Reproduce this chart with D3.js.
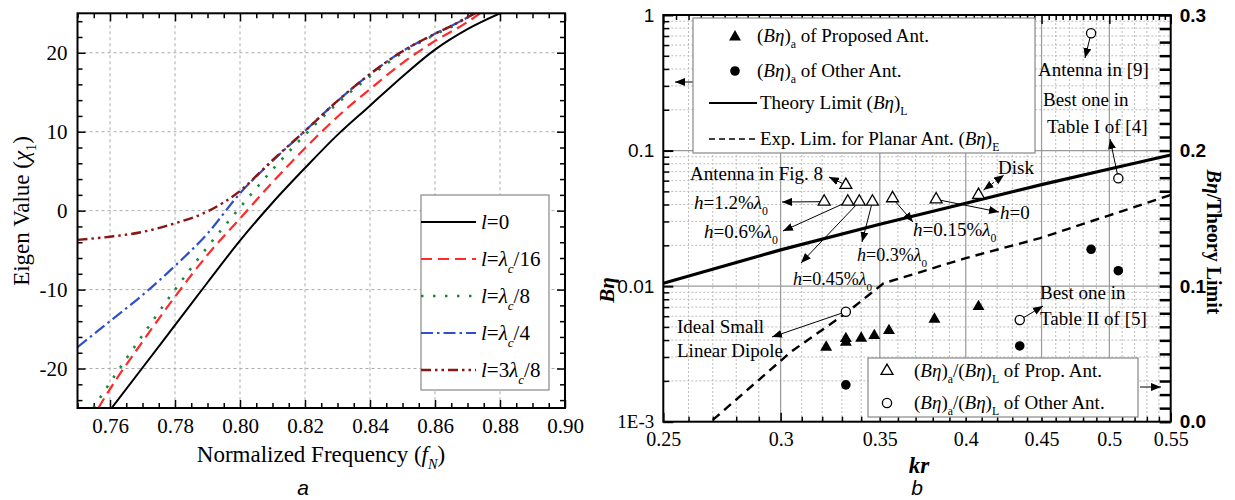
<!DOCTYPE html>
<html><head><meta charset="utf-8">
<script src="https://cdn.jsdelivr.net/npm/d3@7"></script>
<style>
body{margin:0;background:#fff}
svg{display:block}
</style>
</head><body>
<svg id="c" width="1235" height="500"></svg>
<script>
// ---------------- DATA ----------------
// Panel a : eigen value vs normalized frequency
const fNTicks = [0.76,0.78,0.80,0.82,0.84,0.86,0.88,0.90];
const chiTicks = [-20,-10,0,10,20];
const curveL0  = [[0.7605,-25],[0.77,-19.9],[0.78,-14.5],[0.79,-9.1],[0.80,-3.8],[0.81,1.0],[0.82,5.4],[0.83,9.6],[0.84,13.3],[0.85,17.0],[0.86,20.4],[0.87,23.0],[0.88,25]];
const curveL16 = [[0.7564,-25],[0.76,-22.6],[0.77,-16.6],[0.78,-10.9],[0.79,-5.6],[0.80,-1.0],[0.81,3.6],[0.82,7.9],[0.83,11.9],[0.84,15.4],[0.85,18.7],[0.86,21.5],[0.87,23.9],[0.8738,25]];
const curveL8  = [[0.7549,-25],[0.76,-21.8],[0.77,-15.8],[0.78,-10.0],[0.79,-4.6],[0.80,0.4],[0.81,5.2],[0.82,9.6],[0.83,13.6],[0.84,17.0],[0.85,20.0],[0.86,22.3],[0.866,23.5],[0.871,25]];
const curveL4  = [[0.75,-17.3],[0.76,-14.0],[0.77,-10.7],[0.78,-7.0],[0.79,-2.9],[0.80,2.2],[0.81,6.3],[0.82,10.1],[0.83,13.9],[0.84,17.3],[0.85,20.2],[0.86,22.4],[0.866,23.6],[0.8723,25]];
const curveL38 = [[0.75,-3.7],[0.76,-3.3],[0.77,-2.7],[0.78,-1.6],[0.79,-0.1],[0.80,2.5],[0.81,6.4],[0.82,10.1],[0.83,13.9],[0.84,17.3],[0.85,20.2],[0.86,22.4],[0.866,23.6],[0.8723,25]];

// Panel b : B·eta vs kr
const krTicks = [0.25,0.3,0.35,0.4,0.45,0.5,0.55];
const krLabels = ["0.25","0.3","0.35","0.4","0.45","0.5","0.55"];
const betaTicks = [0.001,0.01,0.1,1];
const betaLabels = ["1E-3","0.01","0.1","1"];
const ratioTicks = [0,0.1,0.2,0.3];
const ratioLabels = ["0.0","0.1","0.2","0.3"];
const theoryKr   = [0.25,0.3,0.35,0.4,0.45,0.5,0.55];
const theoryBeta = [0.0105,0.0185,0.0286,0.0409,0.0561,0.0731,0.0928];
const expKr   = [0.27,0.305,0.332,0.352,0.361,0.4,0.449,0.5,0.55];
const expBeta = [0.00103,0.00329,0.0063,0.0105,0.0114,0.0161,0.0226,0.0333,0.047];
const propKr    = [0.322,0.332,0.332,0.340,0.347,0.355,0.381,0.408];
const propBeta  = [0.00354,0.00385,0.0041,0.00413,0.00432,0.0047,0.0057,0.00706];
const propRKr   = [0.321,0.332,0.333,0.339,0.346,0.357,0.382,0.408];
const propRatio = [0.1623,0.1746,0.1623,0.1623,0.1623,0.1648,0.1640,0.1672];
const otherKr    = [0.332,0.435,0.486,0.507];
const otherBeta  = [0.00187,0.00362,0.0187,0.0130];
const otherRatio = [0.0811,0.075,0.2865,0.1795];

// ---------------- HELPERS ----------------
const SERIF = "'Liberation Serif','Times New Roman',Times,'DejaVu Serif',serif";
const SANS = "'Liberation Sans',Arial,Helvetica,sans-serif";
const svg = d3.select("#c");
function rich(sel, x, y, segs, size, attrs){
  const t = sel.append("text").attr("x",x).attr("y",y).attr("font-size",size).style("font-family",SERIF).attr("fill","#000");
  if(attrs) Object.entries(attrs).forEach(([k,v])=>t.attr(k,v));
  let shift = 0;
  segs.forEach(s=>{
    if(typeof s==="string") s={t:s};
    const ts = t.append("tspan").text(s.t);
    let dy = 0;
    if(s.sub && shift===0){dy=size*0.32; shift=dy;}
    else if(!s.sub && shift!==0){dy=-shift; shift=0;}
    if(dy) ts.attr("dy",dy);
    if(s.sub) ts.attr("font-size",size*0.62);
    if(s.i) ts.attr("font-style","italic");
    if(s.b) ts.attr("font-weight","bold");
  });
  return t;
}
const I = t=>({t,i:true});
const S = t=>({t,sub:true});
const SI = t=>({t,sub:true,i:true});

const defs = svg.append("defs");
defs.append("marker").attr("id","ah").attr("viewBox","0 0 10 8").attr("refX",10).attr("refY",4)
  .attr("markerWidth",10).attr("markerHeight",8).attr("markerUnits","userSpaceOnUse").attr("orient","auto")
  .append("path").attr("d","M0,0 L10,4 L0,8 Z").attr("fill","#000");
defs.append("marker").attr("id","ahs").attr("viewBox","0 0 10 8").attr("refX",0).attr("refY",4)
  .attr("markerWidth",10).attr("markerHeight",8).attr("markerUnits","userSpaceOnUse").attr("orient","auto")
  .append("path").attr("d","M10,0 L0,4 L10,8 Z").attr("fill","#000");

function styleAxis(g, w){
  g.select(".domain").remove();
  g.selectAll(".tick line").attr("stroke","#000").attr("stroke-width",w||1.5);
}
function styleLabels(g, size, fam){
  g.selectAll("text").attr("font-size",size).style("font-family",fam).attr("fill","#000");
}

// ================= PANEL A =================
const A = {l:77.5, r:565, t:13.3, b:408};
const xA = d3.scaleLinear([0.75,0.90],[A.l,A.r]);
const yA = d3.scaleLinear([-25,25],[A.b,A.t]);
const gA = svg.append("g");

// grid
gA.append("g").selectAll("line").data(fNTicks.filter(d=>d<0.9)).join("line")
  .attr("x1",d=>xA(d)).attr("x2",d=>xA(d)).attr("y1",A.t).attr("y2",A.b)
  .attr("stroke","#aaa").attr("stroke-width",1).attr("stroke-dasharray","3,3");
gA.append("g").selectAll("line").data(chiTicks).join("line")
  .attr("y1",d=>yA(d)).attr("y2",d=>yA(d)).attr("x1",A.l).attr("x2",A.r)
  .attr("stroke","#aaa").attr("stroke-width",1).attr("stroke-dasharray","3,3");

// axes
const minorFA = d3.range(150,181).map(i=>i/200).filter(v=>Math.round(v*1000)%20!==0);
const minorCA = d3.range(-24,26,2).filter(v=>v%10!==0);
let ax;
ax = gA.append("g").attr("transform",`translate(0,${A.b})`)
  .call(d3.axisBottom(xA).tickValues(fNTicks).tickSize(-8).tickPadding(10).tickFormat(d3.format(".2f")));
styleAxis(ax); styleLabels(ax,21,SERIF);
ax = gA.append("g").attr("transform",`translate(0,${A.b})`).call(d3.axisBottom(xA).tickValues(minorFA).tickSize(-5).tickFormat(""));
styleAxis(ax);
ax = gA.append("g").attr("transform",`translate(0,${A.t})`).call(d3.axisTop(xA).tickValues(fNTicks).tickSize(-8).tickFormat(""));
styleAxis(ax);
ax = gA.append("g").attr("transform",`translate(0,${A.t})`).call(d3.axisTop(xA).tickValues(minorFA).tickSize(-5).tickFormat(""));
styleAxis(ax);
ax = gA.append("g").attr("transform",`translate(${A.l},0)`)
  .call(d3.axisLeft(yA).tickValues(chiTicks).tickSize(-8).tickPadding(10).tickFormat(d=>String(d)));
styleAxis(ax); styleLabels(ax,21,SERIF);
ax = gA.append("g").attr("transform",`translate(${A.l},0)`).call(d3.axisLeft(yA).tickValues(minorCA).tickSize(-5).tickFormat(""));
styleAxis(ax);
ax = gA.append("g").attr("transform",`translate(${A.r},0)`).call(d3.axisRight(yA).tickValues(chiTicks).tickSize(-8).tickFormat(""));
styleAxis(ax);
ax = gA.append("g").attr("transform",`translate(${A.r},0)`).call(d3.axisRight(yA).tickValues(minorCA).tickSize(-5).tickFormat(""));
styleAxis(ax);

// curves
defs.append("clipPath").attr("id","clipA").append("rect").attr("x",A.l).attr("y",A.t).attr("width",A.r-A.l).attr("height",A.b-A.t);
const lineA = d3.line().x(d=>xA(d[0])).y(d=>yA(d[1])).curve(d3.curveMonotoneX);
const seriesA = [
  {d:curveL0,  c:"#000000", dash:null, w:2},
  {d:curveL16, c:"#ff2a2a", dash:"11,6", w:2.2},
  {d:curveL8,  c:"#148a3c", dash:"2.5,9.5", w:2.6},
  {d:curveL4,  c:"#3050c8", dash:"12,4,2.5,4", w:2.2},
  {d:curveL38, c:"#8b1515", dash:"10,4,2.5,4,2.5,4", w:2.4}
];
const cg = gA.append("g").attr("clip-path","url(#clipA)");
seriesA.forEach(s=>{
  cg.append("path").attr("d",lineA(s.d)).attr("fill","none").attr("stroke",s.c)
    .attr("stroke-width",s.w).attr("stroke-dasharray",s.dash);
});

// frame
gA.append("rect").attr("x",A.l).attr("y",A.t).attr("width",A.r-A.l).attr("height",A.b-A.t)
  .attr("fill","none").attr("stroke","#000").attr("stroke-width",2);

// legend a
const LA = gA.append("g");
LA.append("rect").attr("x",421).attr("y",195).attr("width",128).attr("height",195)
  .attr("fill","#fff").attr("stroke","#888").attr("stroke-width",1.2);
const legRows = [222,259,296,333,370];
seriesA.forEach((s,i)=>{
  LA.append("line").attr("x1",421).attr("x2",i===2?472:476).attr("y1",legRows[i]).attr("y2",legRows[i])
    .attr("stroke",s.c).attr("stroke-width",s.w).attr("stroke-dasharray",s.dash);
});
const legTxt = [
  [I("l"),"=0"],
  [I("l"),"=",I("λ"),SI("c"),"/16"],
  [I("l"),"=",I("λ"),SI("c"),"/8"],
  [I("l"),"=",I("λ"),SI("c"),"/4"],
  [I("l"),"=3",I("λ"),SI("c"),"/8"]
];
legTxt.forEach((t,i)=>rich(LA,481,legRows[i]+7,t,21));

// titles
rich(gA,321,462,["Normalized Frequency (",I("f"),SI("N"),")"],23,{"text-anchor":"middle"});
rich(gA,0,0,["Eigen Value (",I("χ"),S("1"),")"],23,{"text-anchor":"middle","transform":"translate(29,211) rotate(-90)"});
gA.append("text").attr("x",303).attr("y",495).attr("text-anchor","middle").attr("font-size",21)
  .attr("font-style","italic").style("font-family",SANS).text("a");

// ================= PANEL B =================
const B = {l:663.3, r:1170.7, t:15, b:421.7};
const xB = d3.scaleLog([0.25,0.55],[B.l,B.r]);
const yB = d3.scaleLog([0.001,1],[B.b,B.t]);
const yR = d3.scaleLinear([0,0.3],[B.b,B.t]);
const gB = svg.append("g");

// grid
const minorKr = d3.range(26,55).map(i=>i/100).filter(v=>Math.round(v*100)%5!==0);
const majorKrIn = [0.3,0.35,0.4,0.45,0.5];
const minorBeta = [];
[0.001,0.01,0.1].forEach(dec=>{for(let k=2;k<=9;k++) minorBeta.push(dec*k);});
gB.append("g").selectAll("line").data(minorKr).join("line")
  .attr("x1",d=>xB(d)).attr("x2",d=>xB(d)).attr("y1",B.t).attr("y2",B.b)
  .attr("stroke","#bbb").attr("stroke-width",1).attr("stroke-dasharray","2,2");
gB.append("g").selectAll("line").data(minorBeta).join("line")
  .attr("y1",d=>yB(d)).attr("y2",d=>yB(d)).attr("x1",B.l).attr("x2",B.r)
  .attr("stroke","#bbb").attr("stroke-width",1).attr("stroke-dasharray","2,2");
gB.append("g").selectAll("line").data(majorKrIn).join("line")
  .attr("x1",d=>xB(d)).attr("x2",d=>xB(d)).attr("y1",B.t).attr("y2",B.b)
  .attr("stroke","#999").attr("stroke-width",1.2);
gB.append("g").selectAll("line").data([0.01,0.1]).join("line")
  .attr("y1",d=>yB(d)).attr("y2",d=>yB(d)).attr("x1",B.l).attr("x2",B.r)
  .attr("stroke","#999").attr("stroke-width",1.2);

// axes
ax = gB.append("g").attr("transform",`translate(0,${B.b})`)
  .call(d3.axisBottom(xB).tickValues(krTicks).tickSize(-9).tickPadding(10).tickFormat((d,i)=>krLabels[i]));
styleAxis(ax); styleLabels(ax,20,SERIF);
ax = gB.append("g").attr("transform",`translate(0,${B.b})`).call(d3.axisBottom(xB).tickValues(minorKr).tickSize(-5).tickFormat(""));
styleAxis(ax);
const minorKrTop = d3.range(51,110).map(i=>i/200).filter(v=>Math.round(v*1000)%50!==0);
ax = gB.append("g").attr("transform",`translate(0,${B.t})`).call(d3.axisTop(xB).tickValues(krTicks).tickSize(-9).tickFormat(""));
styleAxis(ax);
ax = gB.append("g").attr("transform",`translate(0,${B.t})`).call(d3.axisTop(xB).tickValues(minorKrTop).tickSize(-5).tickFormat(""));
styleAxis(ax);
ax = gB.append("g").attr("transform",`translate(${B.l},0)`)
  .call(d3.axisLeft(yB).tickValues(betaTicks).tickSize(-10).tickPadding(9).tickFormat((d,i)=>betaLabels[i]));
styleAxis(ax,2);
ax.selectAll("text").attr("font-size",19).attr("fill","#000").style("font-family",d=>d===0.001?SERIF:SANS);
ax = gB.append("g").attr("transform",`translate(${B.l},0)`).call(d3.axisLeft(yB).tickValues(minorBeta).tickSize(-6).tickFormat(""));
styleAxis(ax,1.5);
const ratioMinor = d3.range(0,31).map(i=>i/100);
ax = gB.append("g").attr("transform",`translate(${B.r},0)`)
  .call(d3.axisRight(yR).tickValues(ratioMinor).tickSize(-11).tickPadding(9)
    .tickFormat(d=>{const k=ratioTicks.findIndex(v=>Math.abs(v-d)<1e-9);return k>=0?ratioLabels[k]:"";}));
styleAxis(ax,2.5);
styleLabels(ax,19,SANS); ax.selectAll("text").attr("font-weight","bold");

// lines
defs.append("clipPath").attr("id","clipB").append("rect").attr("x",B.l).attr("y",B.t).attr("width",B.r-B.l).attr("height",B.b-B.t);
const cgB = gB.append("g").attr("clip-path","url(#clipB)");
const lineB = d3.line().x(d=>xB(d[0])).y(d=>yB(d[1]));
cgB.append("path").attr("d",lineB(d3.zip(theoryKr,theoryBeta))).attr("fill","none").attr("stroke","#000").attr("stroke-width",3.2);
cgB.append("path").attr("d",lineB(d3.zip(expKr,expBeta))).attr("fill","none").attr("stroke","#000").attr("stroke-width",2.4).attr("stroke-dasharray","9,6");

// annotation arrows (drawn before markers)
const arrows = [
  [[xB(0.332),yR(0.1746)],[829,177]],
  [[xB(0.321),yR(0.1623)],[782,202]],
  [[xB(0.333),yR(0.1623)],[783,231]],
  [[xB(0.339),yR(0.1623)],[801,263]],
  [[xB(0.346),yR(0.1623)],[862,242]],
  [[xB(0.357),yR(0.1648)],[913,222]],
  [[xB(0.382),yR(0.1640)],[999,212]],
  [[xB(0.486),yR(0.2865)],[1085,58]],
  [[xB(0.507),yR(0.1795)],[1110,139]],
  [[xB(0.435),yR(0.075)],[1043,306]],
  [[xB(0.332),yR(0.0811)],[772,337]],
  [[693,82],[675,82]],
  [[1140,387],[1161,387]]
];
gB.append("g").selectAll("line").data(arrows).join("line")
  .attr("x1",d=>d[0][0]).attr("y1",d=>d[0][1]).attr("x2",d=>d[1][0]).attr("y2",d=>d[1][1])
  .attr("stroke","#000").attr("stroke-width",1).attr("marker-end","url(#ah)");
// Disk (dashed double arrow)
gB.append("line").attr("x1",xB(0.408)+5).attr("y1",yR(0.1672)-5).attr("x2",1004).attr("y2",175)
  .attr("stroke","#000").attr("stroke-width",1).attr("stroke-dasharray","3,2")
  .attr("marker-end","url(#ah)").attr("marker-start","url(#ahs)");

// markers
const tri = d3.symbol().type(d3.symbolTriangle).size(62);
const mk = gB.append("g");
mk.selectAll(".pt").data(d3.zip(propKr,propBeta)).join("path")
  .attr("d",tri).attr("transform",d=>`translate(${xB(d[0])},${yB(d[1])})`).attr("fill","#000");
mk.selectAll(".pc").data(d3.zip(otherKr,otherBeta)).join("circle")
  .attr("cx",d=>xB(d[0])).attr("cy",d=>yB(d[1])).attr("r",4.8).attr("fill","#000");
mk.selectAll(".ot").data(d3.zip(propRKr,propRatio)).join("path")
  .attr("d",tri).attr("transform",d=>`translate(${xB(d[0])},${yR(d[1])})`)
  .attr("fill","#fff").attr("stroke","#000").attr("stroke-width",1.3);
mk.selectAll(".oc").data(d3.zip(otherKr,otherRatio)).join("circle")
  .attr("cx",d=>xB(d[0])).attr("cy",d=>yR(d[1])).attr("r",4.6)
  .attr("fill","#fff").attr("stroke","#000").attr("stroke-width",1.3);

// annotation texts
const F = 19;
const ann = gB.append("g");
rich(ann,690,180,["Antenna in Fig. 8"],F);
rich(ann,694,209,[I("h"),"=1.2%",I("λ"),S("0")],F);
rich(ann,704,238,[I("h"),"=0.6%",I("λ"),S("0")],F);
rich(ann,793,285,[I("h"),"=0.45%",I("λ"),S("0")],18);
rich(ann,857,261,[I("h"),"=0.3%",I("λ"),S("0")],18);
rich(ann,913,236,[I("h"),"=0.15%",I("λ"),S("0")],F);
rich(ann,1000,219,[I("h"),"=0"],F);
rich(ann,998,174,["Disk"],F);
rich(ann,1038,76,["Antenna in [9]"],F);
rich(ann,1043,106,["Best one in"],F);
rich(ann,1047,133,["Table I of [4]"],F);
rich(ann,1040,299,["Best one in"],F);
rich(ann,1040,325,["Table II of [5]"],F);
rich(ann,677,333,["Ideal Small"],F);
rich(ann,677,357,["Linear Dipole"],F);

// legend 1
const L1 = gB.append("g");
L1.append("rect").attr("x",693).attr("y",18).attr("width",342).attr("height",135)
  .attr("fill","#fff").attr("stroke","#888").attr("stroke-width",1.2);
L1.append("path").attr("d",tri).attr("transform","translate(735,37)").attr("fill","#000");
L1.append("circle").attr("cx",735).attr("cy",71).attr("r",4.8).attr("fill","#000");
L1.append("line").attr("x1",709).attr("x2",757).attr("y1",103).attr("y2",103).attr("stroke","#000").attr("stroke-width",2);
L1.append("line").attr("x1",709).attr("x2",757).attr("y1",139).attr("y2",139).attr("stroke","#000").attr("stroke-width",1.5).attr("stroke-dasharray","6,4");
rich(L1,757,42,["(",I("B"),I("η"),")",S("a")," of Proposed Ant."],F);
rich(L1,757,77,["(",I("B"),I("η"),")",S("a")," of Other Ant."],F);
rich(L1,760,109,["Theory Limit (",I("B"),I("η"),")",S("L")],F);
rich(L1,760,145,["Exp. Lim. for Planar Ant. (",I("B"),I("η"),")",S("E")],F);

// legend 2
const L2 = gB.append("g");
L2.append("rect").attr("x",868).attr("y",358).attr("width",270).attr("height",59)
  .attr("fill","#fff").attr("stroke","#888").attr("stroke-width",1.2);
L2.append("path").attr("d",tri).attr("transform","translate(887,371)").attr("fill","#fff").attr("stroke","#000").attr("stroke-width",1.3);
L2.append("circle").attr("cx",887).attr("cy",403).attr("r",4.6).attr("fill","#fff").attr("stroke","#000").attr("stroke-width",1.3);
rich(L2,914,377,["(",I("B"),I("η"),")",S("a"),"/(",I("B"),I("η"),")",S("L")," of Prop. Ant."],F);
rich(L2,914,409,["(",I("B"),I("η"),")",S("a"),"/(",I("B"),I("η"),")",S("L")," of Other Ant."],F);

// frame
gB.append("rect").attr("x",B.l).attr("y",B.t).attr("width",B.r-B.l).attr("height",B.b-B.t)
  .attr("fill","none").attr("stroke","#000").attr("stroke-width",2);

// titles
rich(gB,919,473,[{t:"kr",i:true,b:true}],23,{"text-anchor":"middle"});
rich(gB,0,0,[{t:"B",i:true,b:true},{t:"η",i:true,b:true}],21,{"text-anchor":"middle","transform":"translate(614,290) rotate(-90)"});
rich(gB,0,0,[{t:"B",i:true,b:true},{t:"η",i:true,b:true},{t:"/Theory Limit",b:true}],20,{"text-anchor":"middle","transform":"translate(1207,242) rotate(90)"});
gB.append("text").attr("x",917).attr("y",495).attr("text-anchor","middle").attr("font-size",21)
  .attr("font-style","italic").style("font-family",SANS).text("b");
</script>
</body></html>
